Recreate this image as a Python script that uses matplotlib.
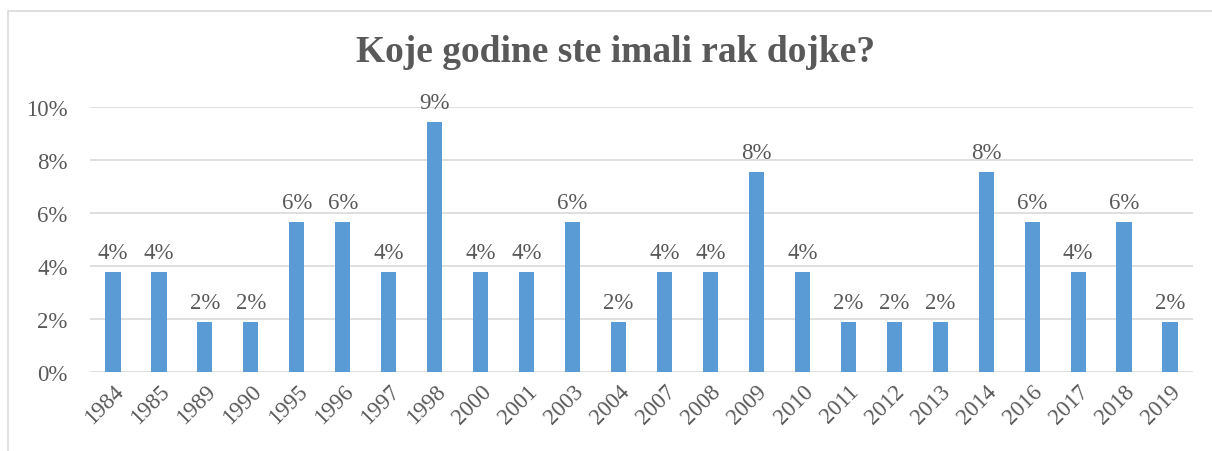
import matplotlib.pyplot as plt
from matplotlib.patches import Rectangle
from matplotlib.ticker import FuncFormatter

# godine i udio (%) ispitanica
years = ["1984", "1985", "1989", "1990", "1995", "1996", "1997", "1998",
         "2000", "2001", "2003", "2004", "2007", "2008", "2009", "2010",
         "2011", "2012", "2013", "2014", "2016", "2017", "2018", "2019"]
shares = [3.77, 3.77, 1.89, 1.89, 5.66, 5.66, 3.77, 9.43,
          3.77, 3.77, 5.66, 1.89, 3.77, 3.77, 7.55, 3.77,
          1.89, 1.89, 1.89, 7.55, 5.66, 3.77, 5.66, 1.89]

TEXT = '#595959'
plt.rcParams['font.family'] = ['Liberation Serif', 'DejaVu Serif']

fig = plt.figure(figsize=(12.12, 4.52), dpi=100)
ax = fig.add_axes([90 / 1212, 1 - 373 / 452, (1193 - 90) / 1212, (373 - 108) / 452])

x = range(len(years))
bars = ax.bar(x, shares, width=0.33, color='#5B9BD5', zorder=3)
for b, v in zip(bars, shares):
    ax.text(b.get_x() + b.get_width() / 2, v + 0.35, f'{v:.0f}%',
            ha='center', va='bottom', fontsize=16.5, color=TEXT)

ax.set_xlim(-0.5, len(years) - 0.5)
ax.set_ylim(0, 10)
ax.set_yticks([0, 2, 4, 6, 8, 10])
ax.yaxis.set_major_formatter(FuncFormatter(lambda v, p: f'{v:.0f}%'))
ax.set_xticks(list(x))
ax.set_xticklabels(years, rotation=45, ha='right', rotation_mode='anchor')
ax.tick_params(axis='both', length=0, labelsize=16.5, labelcolor=TEXT)
ax.tick_params(axis='y', pad=16)
ax.tick_params(axis='x', pad=6)
ax.grid(axis='y', color='#D9D9D9', linewidth=1.2, zorder=0)
for s in ax.spines.values():
    s.set_visible(False)

fig.text(616 / 1212, 1 - 52 / 452, 'Koje godine ste imali rak dojke?', ha='center', va='center',
         fontsize=27, fontweight='bold', color=TEXT)

# okvir grafikona
fig.patches.append(Rectangle((8 / 1212, -0.1), 1.2, 1 - 12 / 452 + 0.1,
                             transform=fig.transFigure, fill=False,
                             edgecolor='#D9D9D9', linewidth=1.2))

fig.savefig('out.png', dpi=100)
